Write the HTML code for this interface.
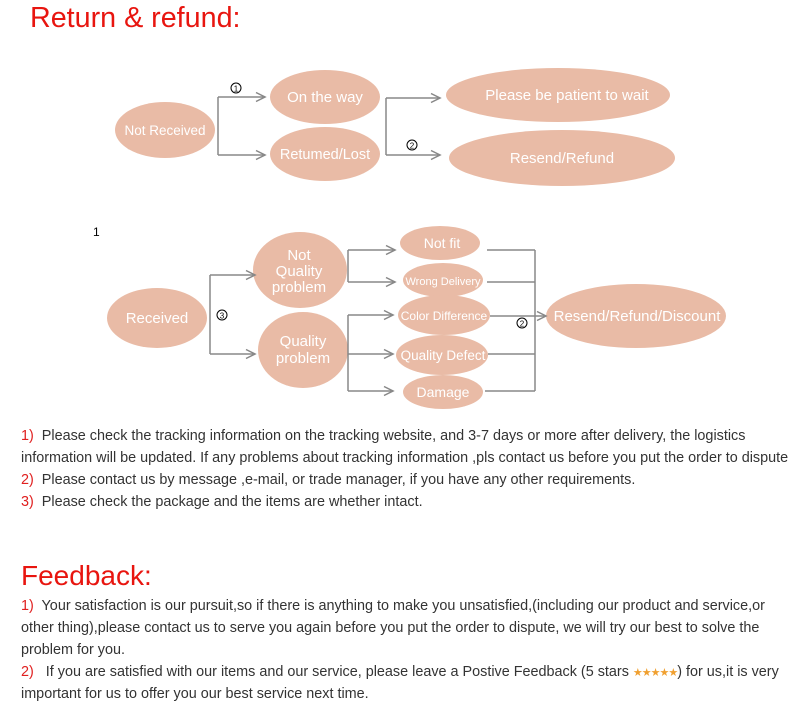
<!DOCTYPE html>
<html><head><meta charset="utf-8"><style>
body{margin:0;width:804px;height:715px;background:#fff;position:relative;overflow:hidden;font-family:"Liberation Sans",Arial,sans-serif}
.l{position:absolute;left:21px;font-size:14.4px;color:#333;white-space:nowrap}
.r{color:#e02020}
.h{position:absolute;color:#e8150f;font-size:28.7px;white-space:nowrap}
svg{position:absolute;left:0;top:0}
</style></head><body>
<div class="h" style="left:30px;top:2px">Return &amp; refund:</div>
<svg width="804" height="420" font-family="Liberation Sans,Arial,sans-serif">
<defs><marker id="a" markerWidth="8" markerHeight="8" refX="7" refY="4" orient="auto"><path d="M1,1 L7,4 L1,7" fill="none" stroke="#888" stroke-width="1"/></marker></defs>
<g fill="#e9bba6">
<ellipse cx="165" cy="130" rx="50" ry="28"/>
<ellipse cx="325" cy="97" rx="55" ry="27"/>
<ellipse cx="325" cy="154" rx="55" ry="27"/>
<ellipse cx="558" cy="95" rx="112" ry="27"/>
<ellipse cx="562" cy="158" rx="113" ry="28"/>
<ellipse cx="157" cy="318" rx="50" ry="30"/>
<ellipse cx="300" cy="270" rx="47" ry="38"/>
<ellipse cx="303" cy="350" rx="45" ry="38"/>
<ellipse cx="440" cy="243" rx="40" ry="17"/>
<ellipse cx="443" cy="280" rx="40" ry="17"/>
<ellipse cx="444" cy="315" rx="46" ry="20"/>
<ellipse cx="442" cy="355" rx="46" ry="20"/>
<ellipse cx="443" cy="392" rx="40" ry="17"/>
<ellipse cx="636" cy="316" rx="90" ry="32"/>
</g>
<g stroke="#888" stroke-width="1.5" fill="none">
<path d="M218,97 V155"/><path d="M218,97 H265" marker-end="url(#a)"/><path d="M218,155 H265" marker-end="url(#a)"/>
<path d="M386,98 V155"/><path d="M386,98 H440" marker-end="url(#a)"/><path d="M386,155 H440" marker-end="url(#a)"/>
<path d="M210,275 V354"/><path d="M210,275 H255" marker-end="url(#a)"/><path d="M210,354 H255" marker-end="url(#a)"/>
<path d="M348,250 V282"/><path d="M348,250 H395" marker-end="url(#a)"/><path d="M348,282 H395" marker-end="url(#a)"/>
<path d="M348,315 V391"/><path d="M348,315 H393" marker-end="url(#a)"/><path d="M348,354 H393" marker-end="url(#a)"/><path d="M348,391 H393" marker-end="url(#a)"/>
<path d="M487,250 H535 M487,282 H535 M490,316 H535 M488,354 H535 M485,391 H535 M535,250 V391"/>
<path d="M535,316 H546" marker-end="url(#a)"/>
</g>
<g font-size="10" text-anchor="middle" fill="#000">
<circle cx="236" cy="88" r="5" fill="none" stroke="#000"/><text x="236" y="91.5" font-size="8">1</text>
<circle cx="412" cy="145" r="5" fill="none" stroke="#000"/><text x="412" y="148.5" font-size="8">2</text>
<circle cx="222" cy="315" r="5" fill="none" stroke="#000"/><text x="222" y="318.5" font-size="8">3</text>
<circle cx="522" cy="323" r="5" fill="none" stroke="#000"/><text x="522" y="326.5" font-size="8">2</text>
</g>
<g fill="#fff" text-anchor="middle" font-size="14">
<text x="165" y="135" font-size="13.5">Not Received</text>
<text x="325" y="102" font-size="15">On the way</text>
<text x="325" y="159" font-size="14.5">Retumed/Lost</text>
<text x="567" y="100" font-size="15">Please be patient to wait</text>
<text x="562" y="163" font-size="15">Resend/Refund</text>
<text x="157" y="323" font-size="15">Received</text>
<text x="299" y="260" font-size="15">Not</text>
<text x="299" y="276" font-size="15">Quality</text>
<text x="299" y="292" font-size="15">problem</text>
<text x="303" y="346" font-size="15">Quality</text>
<text x="303" y="363" font-size="15">problem</text>
<text x="442" y="248">Not fit</text>
<text x="443" y="285" font-size="11">Wrong Delivery</text>
<text x="444" y="320" font-size="12">Color Difference</text>
<text x="443" y="360" font-size="13.5">Quality Defect</text>
<text x="443" y="397">Damage</text>
<text x="637" y="321" font-size="15">Resend/Refund/Discount</text>
</g>
<text x="93" y="236" font-size="12" fill="#000">1</text>
</svg>
<div class="l" style="top:428px"><span class="r">1)</span>&nbsp; Please check the tracking information on the tracking website, and 3-7 days or more after delivery, the logistics</div>
<div class="l" style="top:450px">information will be updated. If any problems about tracking information ,pls contact us before you put the order to dispute</div>
<div class="l" style="top:472px"><span class="r">2)</span>&nbsp; Please contact us by message ,e-mail, or trade manager, if you have any other requirements.</div>
<div class="l" style="top:494px"><span class="r">3)</span>&nbsp; Please check the package and the items are whether intact.</div>
<div class="h" style="left:21px;top:560px;font-size:28px">Feedback:</div>
<div class="l" style="top:598px"><span class="r">1)</span>&nbsp; Your satisfaction is our pursuit,so if there is anything to make you unsatisfied,(including our product and service,or</div>
<div class="l" style="top:620px">other thing),please contact us to serve you again before you put the order to dispute, we will try our best to solve the</div>
<div class="l" style="top:642px">problem for you.</div>
<div class="l" style="top:664px"><span class="r">2)</span>&nbsp;&nbsp; If you are satisfied with our items and our service, please leave a Postive Feedback (5 stars <span style="color:#f0a030;font-size:11px;letter-spacing:-1px">★★★★★</span>) for us,it is very</div>
<div class="l" style="top:686px">important for us to offer you our best service next time.</div>
</body></html>
